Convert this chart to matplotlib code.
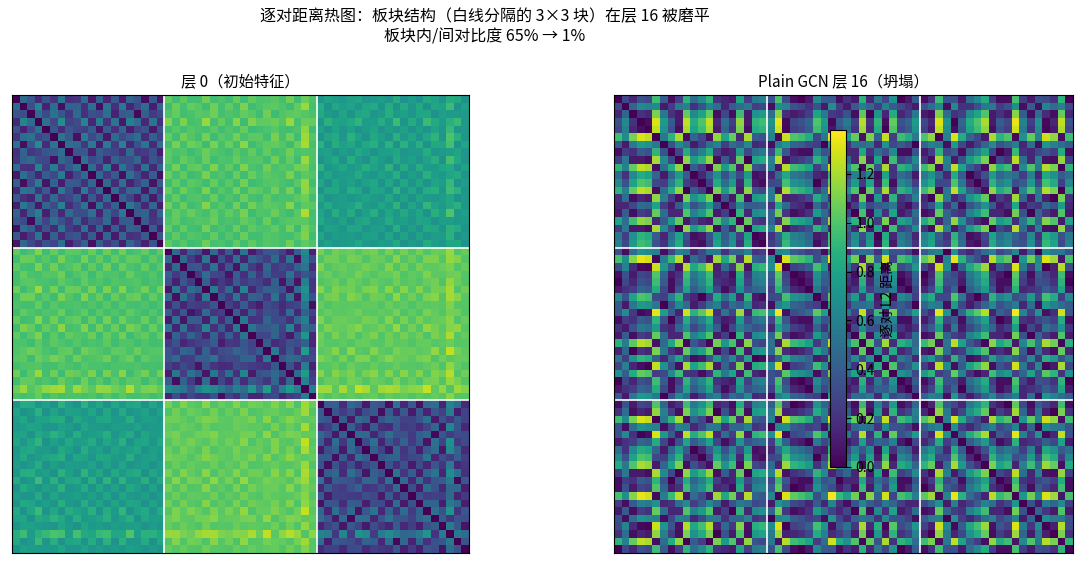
import numpy as np
import matplotlib
matplotlib.use("Agg")
import matplotlib.pyplot as plt

plt.rcParams['font.family'] = ['Noto Sans CJK SC', 'DejaVu Sans']

# block centres (layer 0) in a 2-D feature plane
block_cx = [0.0, 0.95, 0.206]
block_cy = [0.0, 0.0, 0.669]
# per-node offsets, layer 0 (20 nodes per block), orthogonal to the centre plane
u0 = [0.18, -0.22, 0.09, 0.32, -0.14, 0.04, -0.27, 0.22, 0.00, -0.09,
      0.25, -0.18, 0.13, -0.04, 0.29, -0.25, 0.07, 0.16, -0.11, 0.20,
      -0.18, 0.14, -0.07, 0.22, 0.04, -0.25, 0.11, -0.04, 0.18, -0.14,
      0.27, -0.22, 0.05, -0.11, 0.16, 0.00, -0.29, 0.09, 0.45, -0.07,
      0.11, -0.14, 0.22, -0.04, 0.16, -0.23, 0.02, 0.25, -0.11, 0.07,
      -0.18, 0.20, -0.05, 0.13, -0.27, 0.18, 0.04, 0.38, -0.16, 0.09]
v0 = [-0.11, 0.14, 0.25, -0.18, 0.04, -0.27, 0.16, 0.07, -0.22, 0.29,
      -0.05, 0.11, -0.25, 0.20, -0.09, 0.00, 0.23, -0.16, 0.13, -0.04,
      0.13, -0.20, 0.23, 0.02, -0.13, 0.18, -0.25, 0.09, -0.05, 0.22,
      -0.16, 0.04, 0.14, -0.23, 0.27, -0.07, 0.11, -0.18, 0.30, 0.05,
      -0.22, 0.09, 0.18, -0.13, 0.25, -0.02, -0.20, 0.14, 0.05, -0.25,
      0.22, -0.09, 0.13, -0.16, 0.04, 0.27, -0.11, 0.34, 0.20, -0.05]
# layer-16 collapsed 1-D node values
x16 = [0.40, 0.70, 0.25, 0.05, 0.10, 1.35, 0.80, 0.45, 0.15, 1.30,
       0.90, 1.05, 1.30, 0.20, 0.55, 0.30, 1.20, 0.15, 0.95, 1.00,
       0.75, 1.38, 0.08, 0.35, 0.40, 0.50, 1.05, 0.80, 0.02, 0.45,
       0.60, 0.30, 1.28, 0.25, 0.95, 0.10, 1.10, 0.40, 0.50, 0.80,
       0.35, 0.20, 1.35, 0.75, 0.05, 0.50, 0.90, 1.05, 1.25, 0.15,
       0.45, 0.35, 1.38, 0.65, 0.30, 0.75, 0.08, 0.20, 1.30, 0.40]
block_size = 20

blk = np.repeat(np.arange(3), block_size)
cx = np.array(block_cx)[blk]
cy = np.array(block_cy)[blk]
u = np.array(u0)
v = np.array(v0)
D0 = np.sqrt((cx[:, None] - cx[None, :])**2 + (cy[:, None] - cy[None, :])**2
             + (u[:, None] - u[None, :])**2 + (v[:, None] - v[None, :])**2)
xs = np.array(x16)
D16 = np.abs(xs[:, None] - xs[None, :])

fig = plt.figure(figsize=(10.84, 5.64), dpi=100)
W, H = 1084, 564
axL = fig.add_axes([12/W, 1-553/H, 457/W, 458/H])
axR = fig.add_axes([614/W, 1-553/H, 459/W, 458/H])
for ax, D, t in [(axL, D0, '层 0（初始特征）'), (axR, D16, 'Plain GCN 层 16（坍塌）')]:
    im = ax.imshow(D, cmap='viridis', vmin=0, vmax=1.38, aspect='auto', interpolation='nearest')
    for b in (block_size - 0.5, 2*block_size - 0.5):
        ax.axhline(b, color='white', lw=1.2)
        ax.axvline(b, color='white', lw=1.2)
    ax.set_xticks([]); ax.set_yticks([])
    ax.set_title(t, fontsize=11)
cax = fig.add_axes([830/W, 1-467/H, 16/W, 337/H])
cb = fig.colorbar(im, cax=cax)
cb.set_label('逐对 L2 距离', fontsize=10)
fig.suptitle('逐对距离热图：板块结构（白线分隔的 3×3 块）在层 16 被磨平\n板块内/间对比度 65% → 1%',
             fontsize=11.5, x=485/W, y=0.985, linespacing=1.2)
fig.savefig('out.png', dpi=100)
